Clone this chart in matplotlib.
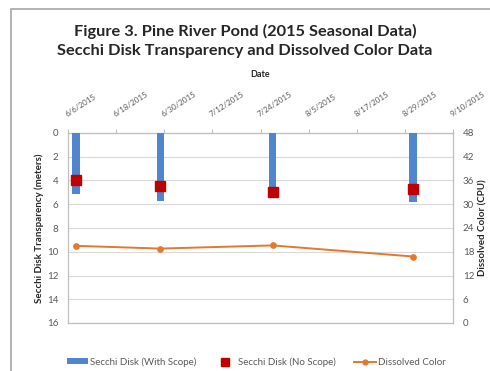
import numpy as np
import pandas as pd
import matplotlib
matplotlib.use("Agg")
import matplotlib.pyplot as plt
import matplotlib.dates as mdates
from matplotlib.patches import Patch, Rectangle
from matplotlib.lines import Line2D

plt.rcParams['font.family'] = ['Lato', 'DejaVu Sans']

# 2015 seasonal sampling at Pine River Pond
sample_dates = ['2015-06-08', '2015-06-29', '2015-07-27', '2015-08-31']
secchi_scope = [5.1, 5.7, 5.5, 5.8]       # meters, viewing scope
secchi_no_scope = [4.0, 4.5, 5.0, 4.7]    # meters, no scope
dissolved_color = [19.5, 18.8, 19.6, 16.8]  # CPU

tick_dates = pd.date_range('2015-06-06', '2015-09-10', freq='12D')
depth_ticks = np.arange(0, 17, 2)
color_ticks = np.arange(0, 49, 6)

blue = '#4F86CE'
red = '#C00000'
orange = '#E2792E'
grid_c = '#D9D9D9'
text_c = '#595959'

W, H = 490, 371
fig = plt.figure(figsize=(W / 100, H / 100), dpi=100)

# outer chart frame (runs off the right and bottom edges)
fig.patches.append(Rectangle((11 / W, -0.05), 1.1, 1 - 9 / H + 0.05,
                             transform=fig.transFigure, fill=False,
                             edgecolor='#A6A6A6', linewidth=1.2))

ax = fig.add_axes([68 / W, (H - 323) / H, 385 / W, 190 / H])
x = mdates.date2num(pd.to_datetime(sample_dates))

ax.bar(x, secchi_scope, width=1.8, color=blue, zorder=3)
ax.plot(x, secchi_no_scope, linestyle='none', marker='s', markersize=6.5,
        color=red, zorder=4)

ax.set_ylim(16, 0)
ax.set_yticks(depth_ticks)
ax.set_xlim(mdates.date2num(tick_dates[0]), mdates.date2num(tick_dates[-1]))
ax.set_xticks(mdates.date2num(tick_dates))
ax.xaxis.tick_top()
ax.xaxis.set_label_position('top')
ax.set_xticklabels([f"{d.month}/{d.day}/{d.year}" for d in tick_dates],
                   rotation=33, ha='left', va='bottom', rotation_mode='anchor',
                   fontsize=5.8, color=text_c)
ax.tick_params(axis='x', which='both', length=3, color='#BFBFBF', pad=8)
ax.tick_params(axis='y', length=0, labelsize=7, labelcolor=text_c, pad=7)
ax.grid(True, axis='y', color=grid_c, linewidth=0.8, zorder=0)
ax.set_axisbelow(True)
for s in ax.spines.values():
    s.set_color('#BFBFBF')
    s.set_linewidth(0.9)
ax.set_ylabel('Secchi Disk Transparency (meters)', fontsize=7,
              fontweight='bold', color='#262626', labelpad=2)
ax.set_xlabel('Date', fontsize=6.5, fontweight='bold', color='#262626')
ax.xaxis.set_label_coords(0.5, 1.295)

ax2 = ax.twinx()
ax2.plot(x, dissolved_color, color=orange, linewidth=1.4, marker='o',
         markersize=3.8, zorder=5)
ax2.set_ylim(0, 48)
ax2.set_yticks(color_ticks)
ax2.tick_params(axis='y', length=0, labelsize=7, labelcolor=text_c, pad=7)
for s in ax2.spines.values():
    s.set_visible(False)
ax2.set_ylabel('Dissolved Color (CPU)', fontsize=7, fontweight='bold',
               color='#262626', labelpad=3)

fig.text(0.5, 1 - 31 / H, 'Figure 3. Pine River Pond (2015 Seasonal Data)',
         ha='center', va='center', fontsize=11.8, fontweight='bold',
         color='#262626')
fig.text(0.5, 1 - 51 / H, 'Secchi Disk Transparency and Dissolved Color Data',
         ha='center', va='center', fontsize=11.8, fontweight='bold',
         color='#262626')

handles = [
    Patch(facecolor=blue, edgecolor='none'),
    Line2D([], [], linestyle='none', marker='s', markersize=5.5, color=red),
    Line2D([], [], color=orange, linewidth=1.4, marker='o', markersize=3.5),
]
labels = ['Secchi Disk (With Scope)', 'Secchi Disk (No Scope)', 'Dissolved Color']
fig.legend(handles, labels, loc='center', bbox_to_anchor=(256 / W, 1 - 362 / H),
           ncol=3, frameon=False, fontsize=7, handlelength=2.2,
           handleheight=0.6, handletextpad=0.2, columnspacing=1.9,
           labelcolor=text_c)

fig.savefig('out.png', dpi=100)
